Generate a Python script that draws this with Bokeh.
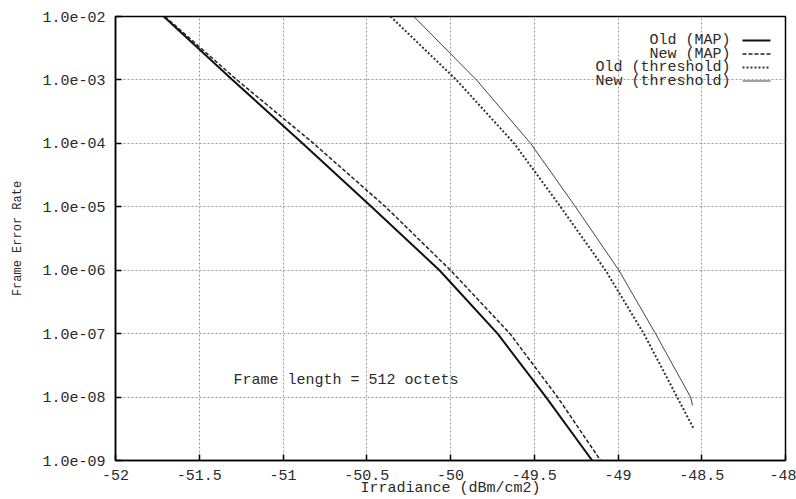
import math
from bokeh.plotting import figure
from bokeh.models import FixedTicker, Label, Arrow, Range1d
from bokeh.embed import file_html
from bokeh.resources import INLINE

# ---- data ----
x_ticks = [-52, -51.5, -51, -50.5, -50, -49.5, -49, -48.5, -48]
x_tick_labels = ["-52", "-51.5", "-51", "-50.5", "-50", "-49.5", "-49", "-48.5", "-48"]
y_ticks = [1e-2, 1e-3, 1e-4, 1e-5, 1e-6, 1e-7, 1e-8, 1e-9]
y_tick_labels = ["1.0e-02", "1.0e-03", "1.0e-04", "1.0e-05", "1.0e-06", "1.0e-07", "1.0e-08", "1.0e-09"]

old_map_x = [-51.712, -51.301, -50.884, -50.472, -50.066, -49.719, -49.430, -49.154]
old_map_y = [1e-2, 1e-3, 1e-4, 1e-5, 1e-6, 1e-7, 1e-8, 1e-9]
new_map_x = [-51.705, -51.275, -50.818, -50.388, -50.000, -49.645, -49.361, -49.104]
new_map_y = [1e-2, 1e-3, 1e-4, 1e-5, 1e-6, 1e-7, 1e-8, 1e-9]
old_thr_x = [-50.358, -49.965, -49.620, -49.343, -49.075, -48.846, -48.647, -48.549]
old_thr_y = [1e-2, 1e-3, 1e-4, 1e-5, 1e-6, 1e-7, 1e-8, 3.2e-9]
new_thr_x = [-50.219, -49.845, -49.522, -49.254, -48.995, -48.776, -48.567, -48.555]
new_thr_y = [1e-2, 1e-3, 1e-4, 1e-5, 1e-6, 1e-7, 1e-8, 7.4e-9]

legend_labels = ["Old (MAP)", "New (MAP)", "Old (threshold)", "New (threshold)"]
x_title = "Irradiance (dBm/cm2)"
y_title = "Frame Error Rate"
note_text = "Frame length = 512 octets"

FONT = "Liberation Mono"
TXT = "#2a2a2a"

styles = [
    dict(line_color="#111111", line_width=2.0, line_dash="solid"),
    dict(line_color="#222222", line_width=1.5, line_dash="4 2"),
    dict(line_color="#333333", line_width=2.0, line_dash="2 2"),
    dict(line_color="#444444", line_width=1.0, line_dash="solid"),
]

p = figure(width=796, height=499,
           x_range=Range1d(-52, -48), y_range=Range1d(1e-9, 1e-2),
           y_axis_type="log", output_backend="svg", toolbar_location=None,
           min_border_left=115, min_border_right=11, min_border_top=16, min_border_bottom=39)
p.background_fill_color = "white"
p.border_fill_color = "white"
p.outline_line_color = "black"
p.outline_line_width = 1.5

p.xaxis.ticker = FixedTicker(ticks=x_ticks)
p.yaxis.ticker = FixedTicker(ticks=y_ticks)
p.xaxis.major_label_overrides = dict(zip(x_ticks, x_tick_labels))
p.yaxis.major_label_overrides = dict(zip(y_ticks, y_tick_labels))

for ax in list(p.xaxis) + list(p.yaxis):
    ax.axis_line_color = "black"
    ax.axis_line_width = 1.5
    ax.major_tick_in = 6
    ax.major_tick_out = 0
    ax.major_tick_line_color = "black"
    ax.major_tick_line_width = 1.5
    ax.minor_tick_line_color = None
    ax.major_label_text_font = FONT
    ax.major_label_text_font_size = "15px"
    ax.major_label_text_color = TXT
    ax.axis_label_text_font = FONT
    ax.axis_label_text_font_style = "normal"
    ax.axis_label_text_color = TXT
p.yaxis.major_label_standoff = 10
p.xaxis.major_label_standoff = 9

p.xaxis.axis_label = x_title
p.xaxis.axis_label_text_font_size = "15px"
p.xaxis.axis_label_standoff = -3
p.yaxis.axis_label = y_title
p.yaxis.axis_label_text_font_size = "12px"
p.yaxis.axis_label_standoff = 14

p.xgrid.grid_line_color = "#9a9a9a"
p.xgrid.grid_line_dash = "2 2"
p.xgrid.grid_line_width = 1
p.ygrid.grid_line_color = "#9a9a9a"
p.ygrid.grid_line_dash = "2 2"
p.ygrid.grid_line_width = 1

series = [(old_map_x, old_map_y), (new_map_x, new_map_y), (old_thr_x, old_thr_y), (new_thr_x, new_thr_y)]
for (xs, ys), st in zip(series, styles):
    p.line(xs, ys, **st)

# legend (text right-aligned, sample to the right), positions relative to the frame
row_y = [420, 406.5, 393, 379.5]
for lab, st, yy in zip(legend_labels, styles, row_y):
    p.add_layout(Label(x=615, y=yy, x_units="screen", y_units="screen", text=lab,
                       text_align="right", text_baseline="middle", text_font=FONT,
                       text_font_size="15px", text_color=TXT))
    p.add_layout(Arrow(start=None, end=None, x_start=627, y_start=yy, x_end=655, y_end=yy,
                       start_units="screen", end_units="screen", **st))

p.add_layout(Label(x=118, y=80, x_units="screen", y_units="screen", text=note_text,
                   text_align="left", text_baseline="middle",
                   text_font=FONT, text_font_size="15px", text_color=TXT))

open("out.html", "w").write(file_html(p, INLINE))
